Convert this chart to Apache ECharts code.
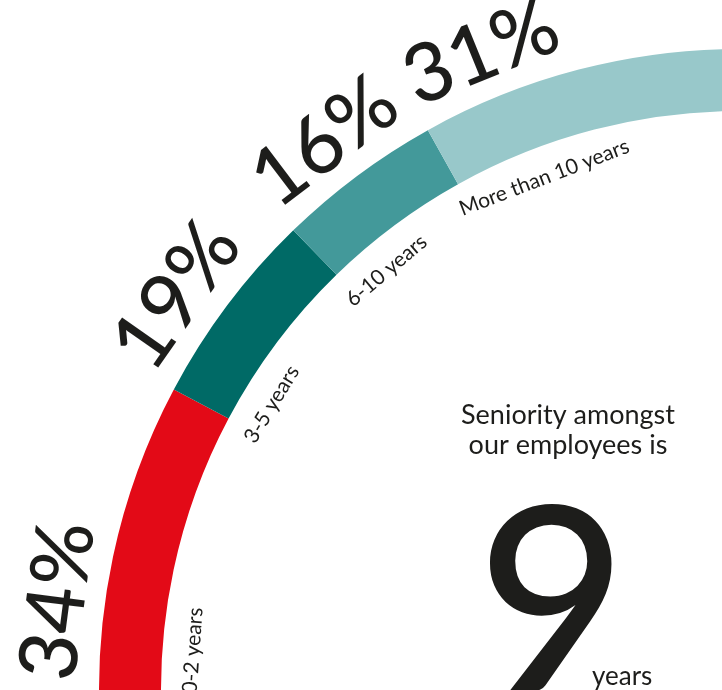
<!DOCTYPE html>
<html><head><meta charset="utf-8">
<script src="https://cdn.jsdelivr.net/npm/echarts@6/dist/echarts.min.js"></script>
<style>html,body{margin:0;padding:0;background:#fff;} #c{width:722px;height:690px;}</style>
</head><body><div id="c"></div>
<script>
// ---- data ----
const categories = ['0-2 years', '3-5 years', '6-10 years', 'More than 10 years'];
const shares = [34, 19, 16, 31];
const segmentColors = ['#e30a17', '#006a66', '#43999a', '#98c8ca'];
const averageSeniority = 9;
const headline = ['Seniority amongst', 'our employees is'];
const unitLabel = 'years';

// ---- geometry / style ----
const CX = 740, CY = 690, R0 = 579, R1 = 641;
const START = 184, END = 90;
const FONT = 'Lato, "Noto Sans", sans-serif';
const INK = '#1d1d1b';
const PCT_SIZE = 81, CAT_SIZE = 21, BIG_WEIGHT = 500;

const total = shares.reduce((a, b) => a + b, 0);
function segStart(i) {
  let c = 0;
  for (let k = 0; k < i; k++) c += shares[k];
  return START - (START - END) * c / total;
}
const measureCtx = document.createElement('canvas').getContext('2d');
function textWidth(text, size, weight) {
  measureCtx.font = (weight || 'normal') + ' ' + size + 'px ' + FONT;
  return measureCtx.measureText(text).width;
}
// label begins at the start of its segment and follows the arc (tangent at its middle)
function arcLabelLayout(radius, vAlign, lead, maxAngle, size, weight, fmt) {
  return function (p) {
    const a0 = Math.min(segStart(p.dataIndex) + lead, maxAngle);
    const w = textWidth(fmt(p.dataIndex), size, weight);
    const a = a0 - (w / 2) / radius * 180 / Math.PI;
    const rad = a * Math.PI / 180;
    return {
      x: CX + radius * Math.cos(rad),
      y: CY - radius * Math.sin(rad),
      rotate: a - 90,
      align: 'center',
      verticalAlign: vAlign
    };
  };
}
const pctText = i => shares[i] + '%';
const catText = i => categories[i];

const pieData = categories.map((name, i) => ({
  name: name,
  value: shares[i],
  itemStyle: { color: segmentColors[i] }
}));
const ghostData = categories.map((name, i) => ({
  name: name,
  value: shares[i],
  itemStyle: { color: 'rgba(0,0,0,0)' }
}));

const chart = echarts.init(document.getElementById('c'), null, { renderer: 'canvas' });
chart.setOption({
  animation: false,
  backgroundColor: '#ffffff',
  series: [
    {
      type: 'pie',
      silent: true,
      center: [CX, CY],
      radius: [R0, R1],
      startAngle: START,
      endAngle: END,
      clockwise: true,
      avoidLabelOverlap: false,
      emphasis: { disabled: true },
      itemStyle: { borderWidth: 0 },
      label: {
        show: true,
        position: 'inside',
        formatter: p => pctText(p.dataIndex),
        fontFamily: FONT,
        fontWeight: BIG_WEIGHT,
        fontSize: PCT_SIZE,
        color: INK
      },
      labelLine: { show: false },
      labelLayout: arcLabelLayout(R1 + 6, 'bottom', 0, 179.6, PCT_SIZE, BIG_WEIGHT, pctText),
      data: pieData
    },
    {
      type: 'pie',
      silent: true,
      center: [CX, CY],
      radius: [R0, R1],
      startAngle: START,
      endAngle: END,
      clockwise: true,
      avoidLabelOverlap: false,
      emphasis: { disabled: true },
      label: {
        show: true,
        position: 'inside',
        formatter: p => catText(p.dataIndex),
        fontFamily: FONT,
        fontSize: CAT_SIZE,
        color: INK
      },
      labelLine: { show: false },
      labelLayout: arcLabelLayout(R0 - 20, 'top', 1, 180.3, CAT_SIZE, 'normal', catText),
      data: ghostData
    }
  ],
  graphic: [
    {
      type: 'text', x: 568, y: 415,
      style: { text: headline[0], fontFamily: FONT, fontSize: 27, fill: INK, align: 'center', verticalAlign: 'middle' }
    },
    {
      type: 'text', x: 568, y: 445,
      style: { text: headline[1], fontFamily: FONT, fontSize: 27, fill: INK, align: 'center', verticalAlign: 'middle' }
    },
    {
      type: 'text', x: 552, y: 608,
      style: { text: String(averageSeniority), fontFamily: FONT, fontWeight: BIG_WEIGHT, fontSize: 258, fill: INK, align: 'center', verticalAlign: 'middle' }
    },
    {
      type: 'text', x: 592, y: 677,
      style: { text: unitLabel, fontFamily: FONT, fontSize: 26, fill: INK, align: 'left', verticalAlign: 'middle' }
    }
  ]
});
</script>
</body></html>
